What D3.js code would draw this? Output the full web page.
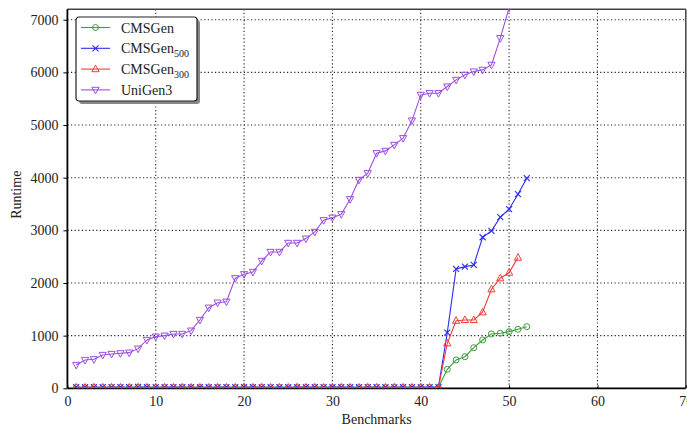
<!DOCTYPE html>
<html>
<head>
<meta charset="utf-8">
<script src="https://cdn.jsdelivr.net/npm/d3@7"></script>
<style>
  body { margin: 0; background: #fff; }
  svg { font-family: "Liberation Serif", "DejaVu Serif", serif; }
</style>
</head>
<body>
<svg id="chart" width="687" height="427"></svg>
<script>
// benchmark indices
const xsUni = d3.range(1, 51);
const xsCms = d3.range(1, 53);
const xsCms300 = d3.range(1, 52);

// runtimes
const uniGen3 = [443, 538, 551, 633, 652, 665, 677, 753, 918, 981,
  1000, 1032, 1032, 1095, 1298, 1531, 1626, 1645, 2090, 2166,
  2210, 2419, 2590, 2590, 2761, 2761, 2843, 2970, 3192, 3241,
  3306, 3591, 3958, 4085, 4465, 4509, 4623, 4750, 5085, 5573,
  5605, 5605, 5731, 5858, 5953, 6016, 6048, 6143, 6650, 7230];

const cmsGen = [12, 10, 14, 11, 13, 12, 10, 15, 12, 11,
  13, 12, 14, 11, 12, 10, 13, 12, 11, 14,
  12, 13, 11, 12, 10, 14, 12, 13, 11, 12,
  13, 12, 11, 14, 12, 10, 13, 12, 11, 13,
  12, 14, 361, 538, 600, 771, 918, 1032, 1045, 1076,
  1121, 1170];

const cmsGen500 = [22, 20, 24, 21, 23, 22, 20, 25, 22, 21,
  23, 22, 24, 21, 22, 20, 23, 22, 21, 24,
  22, 23, 21, 22, 20, 24, 22, 23, 21, 22,
  23, 22, 21, 24, 22, 20, 23, 22, 21, 23,
  22, 24, 1057, 2267, 2311, 2343, 2869, 2989, 3249, 3401,
  3686, 3990];

const cmsGen300 = [16, 15, 18, 16, 17, 16, 15, 18, 16, 15,
  17, 16, 18, 15, 16, 15, 17, 16, 15, 18,
  16, 17, 15, 16, 15, 18, 16, 17, 15, 16,
  17, 16, 15, 18, 16, 15, 17, 16, 15, 17,
  16, 18, 855, 1284, 1298, 1298, 1444, 1881, 2090, 2197,
  2482];

const xTicks = [0, 10, 20, 30, 40, 50, 60, 70];
const yTicks = [0, 1000, 2000, 3000, 4000, 5000, 6000, 7000];

const series = [
  { name: "CMSGen", sub: "", xs: xsCms, ys: cmsGen, color: "#3a9e3a", marker: "circle" },
  { name: "CMSGen", sub: "500", xs: xsCms, ys: cmsGen500, color: "#2b2bf5", marker: "cross" },
  { name: "CMSGen", sub: "300", xs: xsCms300, ys: cmsGen300, color: "#f53a3a", marker: "up" },
  { name: "UniGen3", sub: "", xs: xsUni, ys: uniGen3, color: "#9d4ee0", marker: "down" }
];

const svg = d3.select("#chart");
const pLeft = 67.4, pRight = 685.8, pTop = 9.2, pBottom = 388.3;

const x = d3.scaleLinear().domain([0, 70]).range([pLeft, pRight]);
const y = d3.scaleLinear().domain([0, 7200]).range([pBottom, pTop]);

svg.append("defs").append("clipPath").attr("id", "clip")
  .append("rect")
  .attr("x", pLeft).attr("y", pTop)
  .attr("width", pRight - pLeft).attr("height", pBottom - pTop);

// grid
const grid = svg.append("g");
grid.selectAll(".gx")
  .data(xTicks.filter(d => d > 0 && d < 70))
  .enter().append("line")
  .attr("x1", d => x(d)).attr("x2", d => x(d))
  .attr("y1", pTop).attr("y2", pBottom)
  .attr("stroke", "#222").attr("stroke-width", 1.1)
  .attr("stroke-dasharray", "1.2,2.4");
grid.selectAll(".gy")
  .data(yTicks.filter(d => d > 0))
  .enter().append("line")
  .attr("x1", pLeft).attr("x2", pRight)
  .attr("y1", d => y(d)).attr("y2", d => y(d))
  .attr("stroke", "#222").attr("stroke-width", 1.1)
  .attr("stroke-dasharray", "1.2,2.4");

// frame
svg.append("line").attr("x1", pLeft).attr("x2", pRight).attr("y1", pTop).attr("y2", pTop)
  .attr("stroke", "#444").attr("stroke-width", 1.5);
svg.append("line").attr("x1", pRight).attr("x2", pRight).attr("y1", pTop).attr("y2", pBottom)
  .attr("stroke", "#444").attr("stroke-width", 1.5);

// axes
const xAxis = svg.append("g")
  .attr("transform", `translate(0,${pBottom})`)
  .call(d3.axisBottom(x).tickValues(xTicks).tickSize(-3).tickPadding(8));
const yAxis = svg.append("g")
  .attr("transform", `translate(${pLeft},0)`)
  .call(d3.axisLeft(y).tickValues(yTicks).tickFormat(d3.format("d")).tickSize(4).tickPadding(5));

[xAxis, yAxis].forEach(g => {
  g.select(".domain").attr("stroke", "#000").attr("stroke-width", 1.8);
  g.selectAll(".tick line").attr("stroke", "#000");
  g.selectAll(".tick text")
    .style("font-family", "Liberation Serif, serif")
    .style("font-size", "14px").attr("fill", "#222");
});
yAxis.select(".domain").attr("d", `M0,${pBottom}V${pTop}`);
xAxis.select(".domain").attr("d", `M${pLeft},0H${pRight}`);

// axis labels
svg.append("text")
  .attr("x", (pLeft + pRight) / 2).attr("y", 424)
  .attr("text-anchor", "middle")
  .style("font-size", "14px").attr("fill", "#222")
  .text("Benchmarks");
svg.append("text")
  .attr("transform", `translate(21,${(pTop + pBottom) / 2 - 4}) rotate(-90)`)
  .attr("text-anchor", "middle")
  .style("font-size", "14px").attr("fill", "#222")
  .text("Runtime");

function drawMarker(g, type, color) {
  if (type === "circle") {
    g.append("circle").attr("r", 3).attr("fill", "none").attr("stroke", color).attr("stroke-width", 1);
  } else if (type === "cross") {
    g.append("path").attr("d", "M-3,-3L3,3M-3,3L3,-3").attr("stroke", color).attr("stroke-width", 1.1);
  } else if (type === "up") {
    g.append("path").attr("d", "M0,-4L3.6,2.6L-3.6,2.6Z").attr("fill", "none").attr("stroke", color).attr("stroke-width", 1);
  } else {
    g.append("path").attr("d", "M0,4L3.6,-2.6L-3.6,-2.6Z").attr("fill", "none").attr("stroke", color).attr("stroke-width", 1);
  }
}

const plot = svg.append("g").attr("clip-path", "url(#clip)");
const line = d3.line().x(d => x(d[0])).y(d => y(d[1]));

series.forEach(s => {
  const pts = s.xs.map((v, i) => [v, s.ys[i]]);
  const g = plot.append("g");
  g.append("path")
    .attr("d", line(pts))
    .attr("fill", "none").attr("stroke", s.color).attr("stroke-width", 1.1);
  pts.forEach(p => {
    const m = g.append("g").attr("transform", `translate(${x(p[0])},${y(p[1])})`);
    drawMarker(m, s.marker, s.color);
  });
});

// legend
const legend = svg.append("g").attr("transform", "translate(76,17)");
legend.append("rect")
  .attr("x", 3).attr("y", 3).attr("width", 121).attr("height", 84).attr("rx", 3)
  .attr("fill", "#888");
legend.append("rect")
  .attr("x", 0).attr("y", 0).attr("width", 121).attr("height", 84).attr("rx", 3)
  .attr("fill", "#fff").attr("stroke", "#222").attr("stroke-width", 1.2);

series.forEach((s, i) => {
  const yy = 10.5 + i * 20.8;
  const item = legend.append("g").attr("transform", `translate(0,${yy})`);
  item.append("line").attr("x1", 5).attr("x2", 34).attr("y1", 0).attr("y2", 0)
    .attr("stroke", s.color).attr("stroke-width", 1.1);
  drawMarker(item.append("g").attr("transform", "translate(19.5,0)"), s.marker, s.color);
  const t = item.append("text").attr("x", 45).attr("y", 5)
    .style("font-size", "14px").attr("fill", "#222")
    .text(s.name);
  if (s.sub) {
    t.append("tspan").attr("dy", 3.5).style("font-size", "10px").text(s.sub);
  }
});
</script>
</body>
</html>
